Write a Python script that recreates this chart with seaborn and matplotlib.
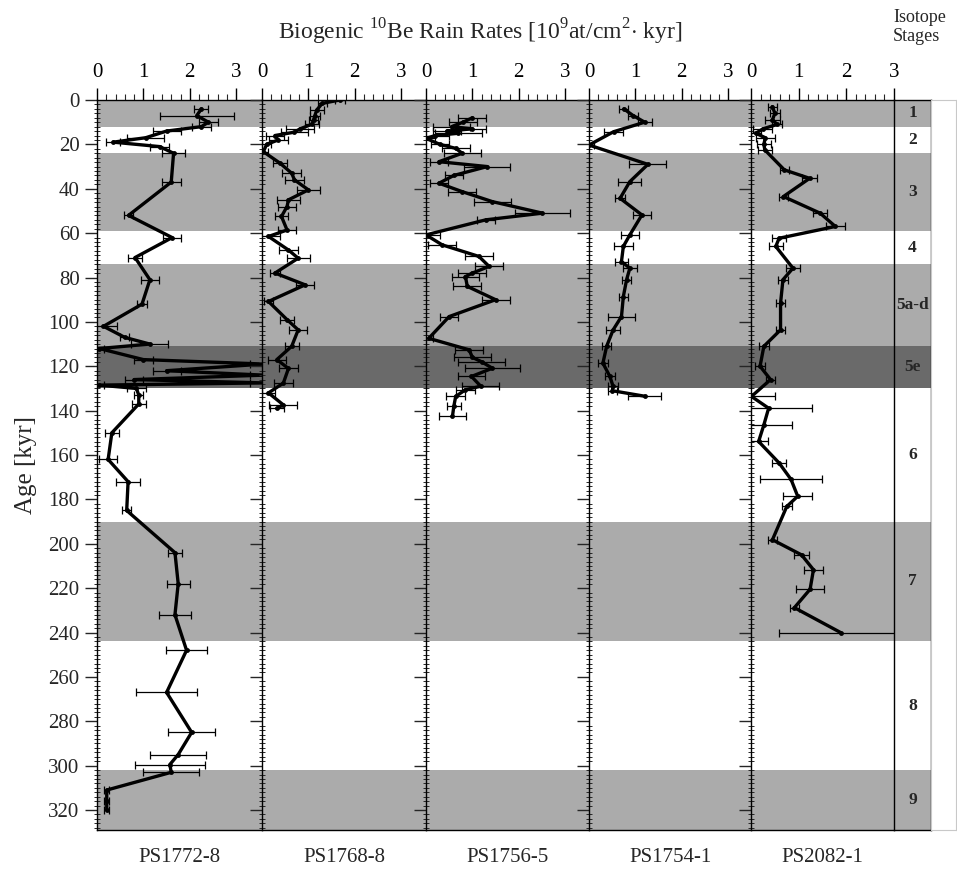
import numpy as np
import pandas as pd
import matplotlib
matplotlib.use("Agg")
import matplotlib.pyplot as plt
import seaborn as sns

# ---------------- data ----------------
cores = ["PS1772-8", "PS1768-8", "PS1756-5", "PS1754-1", "PS2082-1"]

age_1772 = [4, 7, 10, 12, 14, 17, 19, 21, 24, 37, 52, 62, 71, 81, 92, 102, 107, 110, 112, 117, 119, 122, 124, 126,
            127.5, 128.5, 130, 133, 137, 150, 162, 172, 185, 204, 218, 232, 248, 267, 285, 295, 299.5, 303, 311, 316, 320]
val_1772 = [2.25, 2.15, 2.4, 2.25, 1.5, 1.05, 0.35, 1.35, 1.65, 1.6, 0.68, 1.62, 0.82, 1.14, 0.97, 0.14, 0.6, 1.14, 0.05,
            1.0, 3.6, 1.5, 3.6, 0.8, 3.6, 0.05, 0.85, 0.9, 0.9, 0.32, 0.24, 0.67, 0.64, 1.68, 1.75, 1.68, 1.93, 1.5, 2.04,
            1.75, 1.57, 1.6, 0.21, 0.21, 0.21]
err_1772 = [0.15, 0.8, 0.2, 0.2, 0.3, 0.4, 0.15, 0.2, 0.25, 0.2, 0.1, 0.2, 0.15, 0.2, 0.1, 0.3, 0.1, 0.4, 0.1,
            0.2, 0.3, 0.3, 0.3, 0.2, 0.3, 0.1, 0.2, 0.1, 0.15, 0.15, 0.2, 0.25, 0.1, 0.15, 0.25, 0.35, 0.45, 0.65, 0.5,
            0.6, 0.75, 0.6, 0.05, 0.05, 0.05]

age_1768 = [0, 1.5, 4.5, 7, 9, 11, 13, 14.5, 16, 18, 20, 23.3, 28.5, 33, 36, 40.5, 45, 48, 52.5, 58.6, 61.5, 67.6, 71.3,
            78, 83.3, 90.8, 99, 103.6, 111, 117, 121, 127.6, 132, 137.4, 139]
val_1768 = [1.68, 1.3, 1.18, 1.14, 1.11, 1.07, 0.82, 0.7, 0.28, 0.35, 0.1, 0.03, 0.39, 0.64, 0.7, 1.0, 0.57, 0.54, 0.42,
            0.54, 0.14, 0.57, 0.78, 0.28, 0.93, 0.14, 0.54, 0.78, 0.64, 0.32, 0.57, 0.46, 0.14, 0.46, 0.32]
err_1768 = [0.1, 0.1, 0.15, 0.1, 0.1, 0.15, 0.3, 0.3, 0.2, 0.2, 0.1, 0.1, 0.15, 0.2, 0.2, 0.25, 0.25, 0.2, 0.15,
            0.2, 0.25, 0.2, 0.25, 0.1, 0.2, 0.1, 0.15, 0.2, 0.15, 0.2, 0.2, 0.2, 0.15, 0.3, 0.15]

age_1756 = [8, 10, 12, 13, 14, 15, 16, 17.3, 20, 21.8, 24, 27.8, 30, 34, 37.5, 41.3, 45.8, 51, 54, 60.8, 65.3, 70.5, 75,
            78, 79.6, 84, 90, 97.6, 107.4, 112.6, 116, 118, 120.9, 124.6, 129, 130.6, 133.6, 138, 142.6]
val_1756 = [1.0, 0.8, 0.55, 1.0, 0.45, 0.7, 0.2, 0.0, 0.3, 0.64, 0.78, 0.28, 1.32, 0.6, 0.28, 0.78, 1.43, 2.51, 1.29,
            0.0, 0.35, 1.14, 1.36, 1.0, 0.85, 0.89, 1.5, 0.5, 0.06, 0.93, 1.0, 1.2, 1.43, 0.98, 1.18, 0.85, 0.64, 0.6, 0.57]
err_1756 = [0.3, 0.3, 0.4, 0.3, 0.3, 0.5, 0.3, 0.2, 0.2, 0.3, 0.4, 0.2, 0.5, 0.2, 0.2, 0.3, 0.4, 0.6, 0.2,
            0.3, 0.3, 0.3, 0.3, 0.3, 0.3, 0.3, 0.3, 0.2, 0.1, 0.3, 0.4, 0.5, 0.6, 0.3, 0.4, 0.2, 0.2, 0.15, 0.3]

age_1754 = [4, 7, 10, 14.3, 20.3, 29, 36.8, 44.3, 51.8, 60.8, 66, 72.8, 75.8, 81, 88.6, 97.6, 103.6, 111, 118.6,
            124.6, 129.1, 131, 133.5]
val_1754 = [0.75, 0.95, 1.2, 0.53, 0.0, 1.27, 0.88, 0.67, 1.14, 0.88, 0.74, 0.7, 0.88, 0.81, 0.74, 0.7, 0.52, 0.38, 0.3,
            0.45, 0.52, 0.5, 1.2]
err_1754 = [0.1, 0.1, 0.15, 0.2, 0.1, 0.4, 0.25, 0.1, 0.2, 0.2, 0.2, 0.15, 0.15, 0.1, 0.1, 0.3, 0.15, 0.1, 0.1,
            0.1, 0.1, 0.1, 0.35]

age_2082 = [3, 6, 9, 11, 13, 15, 17, 20, 22.5, 31.5, 35.3, 43.5, 51, 57, 62.3, 66, 75.8, 81, 91.6, 103.6, 111, 120,
            126, 133.6, 138.9, 146.4, 153.9, 163.6, 171, 178.6, 183.2, 198.2, 205, 211.7, 220.5, 228.8, 240]
val_2082 = [0.45, 0.5, 0.45, 0.55, 0.25, 0.1, 0.3, 0.27, 0.29, 0.7, 1.23, 0.68, 1.45, 1.77, 0.59, 0.52, 0.88, 0.67,
            0.62, 0.62, 0.27, 0.19, 0.41, 0.01, 0.37, 0.27, 0.16, 0.59, 0.84, 0.98, 0.75, 0.45, 1.06, 1.31, 1.24, 0.91,
            1.88]
err_2082 = [0.1, 0.1, 0.15, 0.1, 0.2, 0.1, 0.2, 0.15, 0.15, 0.1, 0.15, 0.1, 0.15, 0.2, 0.15, 0.15, 0.15, 0.1,
            0.1, 0.1, 0.1, 0.1, 0.1, 0.5, 0.9, 0.6, 0.2, 0.15, 0.65, 0.3, 0.1, 0.1, 0.15, 0.2, 0.3, 0.1, 1.3]

stage_names = ["1", "2", "3", "4", "5a-d", "5e", "6", "7", "8", "9"]
stage_top = [0, 12, 24, 59, 74, 111, 130, 190, 244, 302]
stage_bottom = [12, 24, 59, 74, 111, 130, 190, 244, 302, 329]
stage_shade = ["light", None, "light", None, "light", "dark", None, "light", None, "light"]

series = [(age_1772, val_1772, err_1772), (age_1768, val_1768, err_1768), (age_1756, val_1756, err_1756),
          (age_1754, val_1754, err_1754), (age_2082, val_2082, err_2082)]

# ---------------- style ----------------
sns.set_theme(style="white")
plt.rcParams["font.family"] = ["Liberation Serif", "DejaVu Serif"]
plt.rcParams["mathtext.fontset"] = "custom"
plt.rcParams["mathtext.rm"] = "Liberation Serif"

W, H = 957, 872
fig = plt.figure(figsize=(W / 100, H / 100), dpi=100)

y_top_px, y_bot_px = 100, 830
edges = [97, 262, 426, 589, 751, 894]
px_per_unit = 46.4
ymax = 329

shade_col = {"light": "#ababab", "dark": "#6a6a6a"}


def fx(px):
    return px / W


bottom = 1 - y_bot_px / H
height = (y_bot_px - y_top_px) / H


def shade(ax):
    for t, b, s in zip(stage_top, stage_bottom, stage_shade):
        if s is not None:
            ax.axhspan(t, b, color=shade_col[s], lw=0, zorder=0)


axes = []
for i, (ages, vals, errs) in enumerate(series):
    x0, x1 = edges[i], edges[i + 1]
    ax = fig.add_axes([fx(x0), bottom, fx(x1 - x0), height])
    axes.append(ax)
    shade(ax)
    df = pd.DataFrame({"age": ages, "rate": vals, "err": errs})
    ax.errorbar(df["rate"], df["age"], xerr=df["err"], fmt="none", ecolor="black",
                elinewidth=0.9, capsize=3, capthick=0.9, zorder=2)
    sns.lineplot(data=df, x="rate", y="age", sort=False, estimator=None, ax=ax,
                 color="black", lw=2.4, marker="o", markersize=3.5, markeredgewidth=0, zorder=3)
    xmax = 3.0 if i == 4 else (x1 - x0) / px_per_unit
    ax.set_xlim(0, xmax)
    ax.set_ylim(ymax, 0)
    ax.xaxis.tick_top()
    ax.set_xticks([0, 1, 2, 3])
    ax.set_xticks(np.arange(0, 3.01, 0.2), minor=True)
    ax.tick_params(axis="x", which="major", direction="out", length=9, width=1, pad=4, labelsize=15, colors="black")
    ax.tick_params(axis="x", which="minor", direction="out", length=4.5, width=0.8, top=True)
    ax.set_yticks(np.arange(0, 321, 20))
    ax.set_yticks(np.arange(0, 329, 2), minor=True)
    ax.tick_params(axis="y", which="major", direction="out", length=9, width=1, labelsize=15, left=True)
    ax.tick_params(axis="y", which="minor", direction="inout", length=5, width=0.7, left=True)
    if i > 0:
        ax.tick_params(axis="y", labelleft=False)
    ax.set_xlabel("")
    ax.set_ylabel("")
    for s in ax.spines.values():
        s.set_color("black")
        s.set_linewidth(1.0)
    ax.spines["right"].set_visible(False)
    ax.text(0.5, -0.025, cores[i], transform=ax.transAxes, ha="center", va="top", fontsize=15)

axes[0].set_ylabel("Age [kyr]", fontsize=18, labelpad=8)

# isotope stage column
sax = fig.add_axes([fx(894), bottom, fx(931 - 894), height])
shade(sax)
sax.set_xlim(0, 1)
sax.set_ylim(ymax, 0)
sax.set_xticks([])
sax.set_yticks([])
for s in sax.spines.values():
    s.set_color("black")
    s.set_linewidth(1.0)
for name, t, b in zip(stage_names, stage_top, stage_bottom):
    sax.text(0.5, (t + b) / 2, name, ha="center", va="center", fontsize=12.5, fontweight="bold")

# empty box at far right
bax = fig.add_axes([fx(931), bottom, fx(956 - 931), height])
bax.set_xticks([])
bax.set_yticks([])
for s in bax.spines.values():
    s.set_color("#c8c8c8")
    s.set_linewidth(0.8)

fig.text(fx(480), 1 - 32 / H, r"Biogenic $^{10}$Be Rain Rates [10$^{9}$at/cm$^{2}$$\cdot$ kyr]",
         ha="center", va="center", fontsize=17)
fig.text(fx(893), 1 - 27 / H, "Isotope\nStages", ha="left", va="center", fontsize=13, linespacing=1.1)

fig.savefig("out.png", dpi=100, facecolor="white")
